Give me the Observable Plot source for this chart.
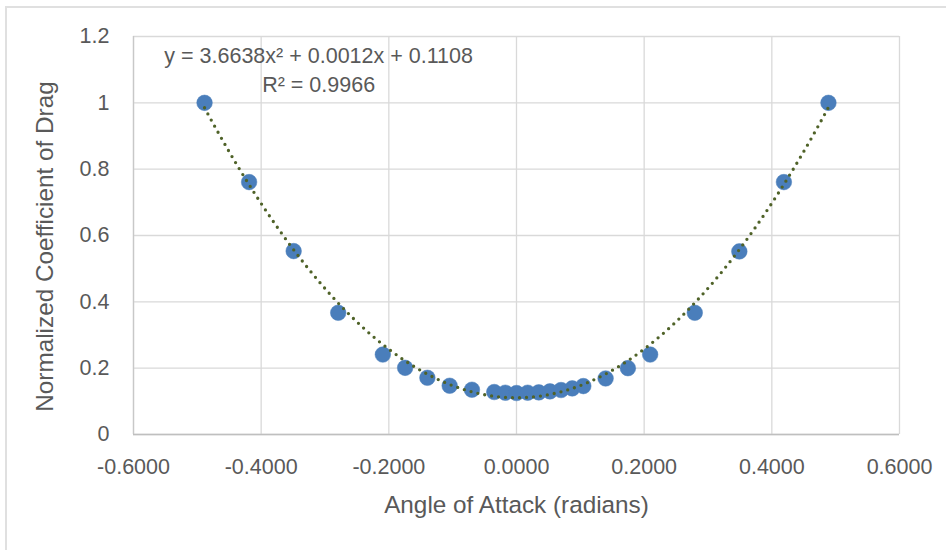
<!DOCTYPE html>
<html>
<head>
<meta charset="utf-8">
<script src="https://cdn.jsdelivr.net/npm/d3@7"></script>
<script src="https://cdn.jsdelivr.net/npm/@observablehq/plot@0.6"></script>
<style>
  body { margin: 0; background: #fff; }
  #chart { position: relative; width: 946px; height: 550px; overflow: hidden; }
  #chart .edge {
    position: absolute; left: 5px; top: 6px; right: -10px; bottom: -10px;
    border-top: 2px solid #e0e0e0; border-left: 2px solid #e0e0e0;
  }
  #chart svg { position: absolute; left: 0; top: 0; }
</style>
</head>
<body>
<div id="chart"><div class="edge"></div></div>
<script>
// Angle of attack (radians) and the measured, normalized drag coefficient
const angle = [
  -0.4887, -0.4189, -0.3491, -0.2793, -0.2094, -0.1745, -0.1396, -0.1047, -0.0698,
  -0.0349, -0.0175, 0.0000, 0.0175, 0.0349, 0.0524, 0.0698, 0.0873, 0.1047,
  0.1396, 0.1745, 0.2094, 0.2793, 0.3491, 0.4189, 0.4887
];
const dragCoef = [
  1.000, 0.761, 0.553, 0.367, 0.241, 0.201, 0.171, 0.147, 0.135,
  0.128, 0.126, 0.125, 0.126, 0.127, 0.130, 0.134, 0.139, 0.146,
  0.169, 0.200, 0.241, 0.367, 0.552, 0.761, 1.000
];

// Quadratic trendline y = a·x² + b·x + c and its fit quality
const fitCoef = [3.6638, 0.0012, 0.1108];
const rSquared = 0.9966;

const xTicks = [-0.6, -0.4, -0.2, 0, 0.2, 0.4, 0.6];
const yTicks = [0, 0.2, 0.4, 0.6, 0.8, 1, 1.2];
const xTitle = "Angle of Attack (radians)";
const yTitle = "Normalized Coefficient of Drag";

const points = angle.map((a, i) => ({ a, cd: dragCoef[i] }));

// Sample the fitted parabola across the span of the measurements
const [qa, qb, qc] = fitCoef;
const [lo, hi] = d3.extent(angle);
const trend = d3.range(0, 241).map(i => {
  const a = lo + (hi - lo) * i / 240;
  return { a, cd: qa * a * a + qb * a + qc };
});

const eqText = `y = ${qa.toFixed(4)}x² + ${qb.toFixed(4)}x + ${qc.toFixed(4)}`;
const r2Text = `R² = ${rSquared.toFixed(4)}`;

const ink = "#595959";
const grid = "#d9d9d9";

const chart = Plot.plot({
  width: 946,
  height: 550,
  marginLeft: 133,
  marginRight: 47,
  marginTop: 36,
  marginBottom: 116,
  style: { fontFamily: "'Liberation Sans', Arial, sans-serif", background: "transparent", color: ink },
  x: { domain: [-0.6, 0.6] },
  y: { domain: [0, 1.2] },
  marks: [
    Plot.gridX(xTicks, { stroke: grid, strokeOpacity: 1, strokeWidth: 1.3 }),
    Plot.gridY(yTicks, { stroke: grid, strokeOpacity: 1, strokeWidth: 1.3 }),
    Plot.ruleX([-0.6], { stroke: "#c8c8c8", strokeWidth: 1.3 }),
    Plot.ruleY([0], { stroke: "#bfbfbf", strokeWidth: 1.6 }),
    Plot.axisX(xTicks, {
      tickSize: 0, tickPadding: 24, fontSize: 21.5, label: null,
      tickFormat: d => d.toFixed(4)
    }),
    Plot.axisY(yTicks, {
      tickSize: 0, tickPadding: 24, fontSize: 21.5, label: null,
      tickFormat: d => String(+d.toFixed(1))
    }),
    Plot.dot(points, { x: "a", y: "cd", r: 7.8, fill: "#4a7ebb", stroke: "#4a7ebb", strokeWidth: 0.5 }),
    Plot.line(trend, {
      x: "a", y: "cd", stroke: "#4f6228", strokeWidth: 3.3,
      strokeDasharray: "0 7", strokeLinecap: "round"
    }),
    Plot.text([eqText], { x: () => -0.31, y: () => 1.14, fontSize: 21.5, fill: ink, textAnchor: "middle" }),
    Plot.text([r2Text], { x: () => -0.31, y: () => 1.053, fontSize: 21.5, fill: ink, textAnchor: "middle" }),
    Plot.text([xTitle], { frameAnchor: "bottom", dy: 78, fontSize: 24.3, fill: ink, textAnchor: "middle" }),
    Plot.text([yTitle], { frameAnchor: "left", dx: -88, dy: 11, rotate: -90, fontSize: 24.3, fill: ink, textAnchor: "middle" })
  ]
});

document.getElementById("chart").appendChild(chart);
</script>
</body>
</html>
